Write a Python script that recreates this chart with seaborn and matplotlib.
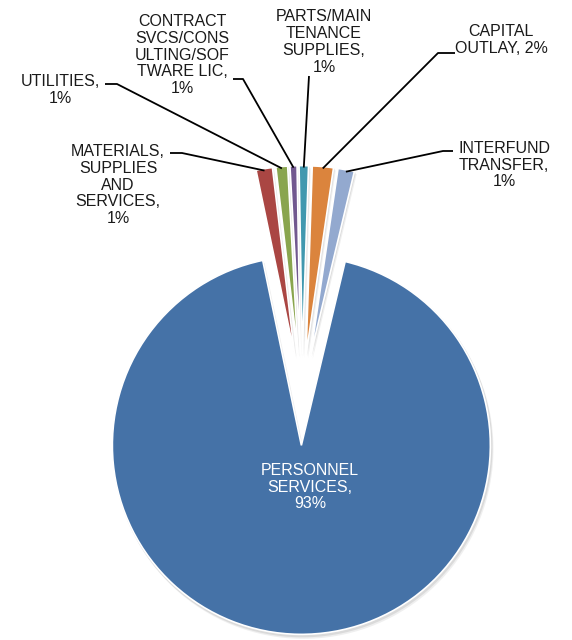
import math

import matplotlib.pyplot as plt
from matplotlib.patches import Wedge
import seaborn as sns

# slices in clockwise order starting at 12 o'clock
names = [
    "PARTS/MAIN\nTENANCE\nSUPPLIES,\n{}",
    "CAPITAL\nOUTLAY, {}",
    "INTERFUND\nTRANSFER,\n{}",
    "PERSONNEL\nSERVICES,\n{}",
    "MATERIALS,\nSUPPLIES\nAND\nSERVICES,\n{}",
    "UTILITIES,\n{}",
    "CONTRACT\nSVCS/CONS\nULTING/SOF\nTWARE LIC,\n{}",
]
shares = [0.8, 1.8, 1.4, 93.0, 1.4, 1.0, 0.6]
colors = ["#4198AF", "#DB843D", "#93A9CF", "#4572A7", "#AA4643", "#89A54E", "#71588F"]

W, H = 572, 640
# label layout in image pixels: (x, y, elbow points from label to slice)
layout = [
    (324, 42, [(309, 76)]),
    (501, 40, [(455, 53), (438, 53)]),
    (504, 165, [(453, 151), (443, 151)]),
    (310, 487, []),
    (118, 185, [(170, 153), (182, 153)]),
    (60, 90, [(105, 84), (117, 84)]),
    (182, 55, [(233, 79), (243, 79)]),
]


def main() -> None:
    sns.set_theme(style="white")
    plt.rcParams["font.family"] = ["Liberation Sans", "DejaVu Sans"]

    fig = plt.figure(figsize=(W / 100, H / 100), dpi=100)
    ax = fig.add_axes([0, 0, 1, 1])

    radius = 189
    wedges, _ = ax.pie(
        shares,
        colors=colors,
        startangle=91,
        counterclock=False,
        center=(302, H - 400),
        radius=radius,
        explode=[0.24 * radius] * len(shares),
        wedgeprops=dict(edgecolor="white", linewidth=1.2, zorder=3),
        frame=True,
    )
    # soft drop shadow behind each slice
    for w in wedges:
        cx, cy = w.center
        for off, a in [(3.5, 0.12), (2.0, 0.18)]:
            ax.add_patch(Wedge((cx + off * 0.6, cy - off), w.r + 1, w.theta1, w.theta2,
                               facecolor="#808080", edgecolor="none", alpha=a, zorder=1))

    ax.set_xlim(0, W)
    ax.set_ylim(0, H)
    ax.axis("off")

    total = sum(shares)
    for w, name, v, (tx, ty, elbow) in zip(wedges, names, shares, layout):
        pct = f"{round(v / total * 100):.0f}%"
        big = v / total > 0.5
        ax.text(tx, H - ty, name.format(pct), ha="center", va="center",
                fontsize=11.5, linespacing=1.16, zorder=5,
                color="white" if big else "#1a1a1a")
        if not elbow:
            continue
        mid = math.radians((w.theta1 + w.theta2) / 2)
        cx, cy = w.center
        ex = cx + w.r * 0.99 * math.cos(mid)
        ey = cy + w.r * 0.99 * math.sin(mid)
        xs = [p[0] for p in elbow] + [ex]
        ys = [H - p[1] for p in elbow] + [ey]
        ax.plot(xs, ys, color="black", linewidth=1.3, solid_capstyle="butt", zorder=4)

    fig.savefig("out.png", dpi=100)
    plt.close(fig)


if __name__ == "__main__":
    main()
